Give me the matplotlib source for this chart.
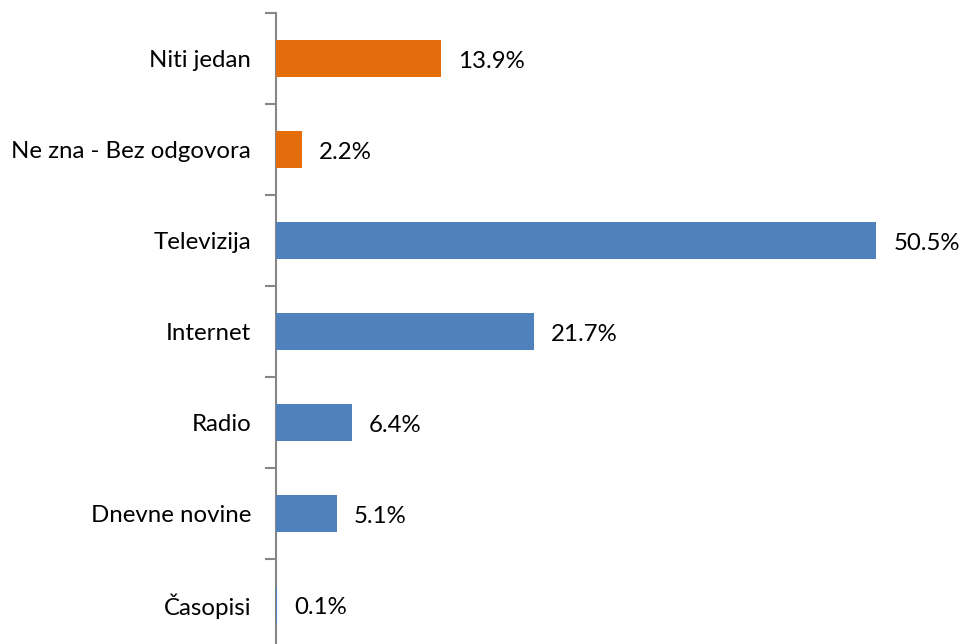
import matplotlib.pyplot as plt
import numpy as np

plt.rcParams['font.family'] = ['Lato', 'DejaVu Sans']

categories = ['Niti jedan', 'Ne zna - Bez odgovora', 'Televizija', 'Internet',
              'Radio', 'Dnevne novine', 'Časopisi']
values = [13.9, 2.2, 50.5, 21.7, 6.4, 5.1, 0.1]
colors = ['#E46C0A', '#E46C0A', '#4F81BD', '#4F81BD', '#4F81BD', '#4F81BD', '#4F81BD']

W, H = 962, 644
fig = plt.figure(figsize=(W / 100, H / 100), dpi=100)
# axes: left edge at x=276px, top at 13px, category spacing 91px
ax = fig.add_axes([276 / W, (H - 13 - 7 * 91) / H, (W - 276) / W, 7 * 91 / H])

y = np.arange(len(categories))
ax.barh(y, values, height=0.4, color=colors, zorder=3)
ax.set_ylim(len(categories) - 0.5, -0.5)
ax.set_xlim(0, 57.7)

for yi, v in zip(y, values):
    ax.annotate(f'{v:.1f}%', xy=(v, yi), xytext=(17, -3), textcoords='offset pixels',
                va='center', ha='left', fontsize=17.3, color='black')

ax.set_yticks(np.arange(-0.5, len(categories) + 0.5, 1), minor=False)
ax.set_yticklabels([])
ax.set_yticks(y, minor=True)
ax.set_yticklabels(categories, minor=True, fontsize=17.3)
ax.tick_params(axis='y', which='major', length=8, width=1.5, color='#868686')
ax.tick_params(axis='y', which='minor', length=0, pad=18)
ax.set_xticks([])

for s in ['top', 'right', 'bottom']:
    ax.spines[s].set_visible(False)
ax.spines['left'].set_color('#868686')
ax.spines['left'].set_linewidth(1.5)

fig.savefig('out.png', dpi=100)
